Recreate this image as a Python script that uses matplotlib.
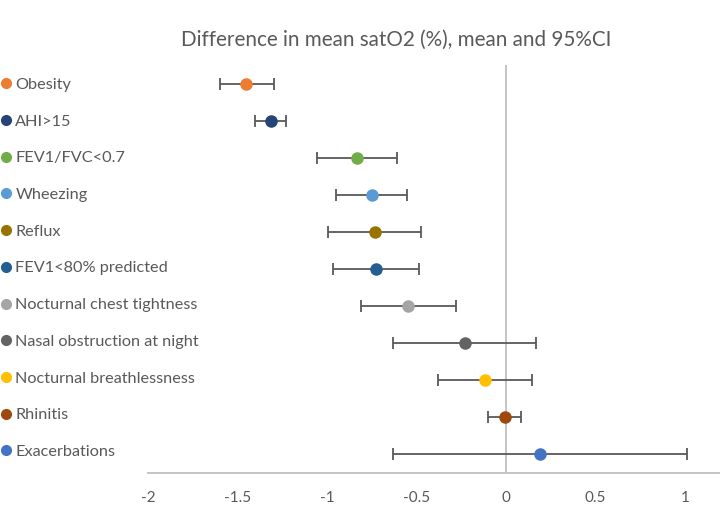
import matplotlib
matplotlib.use("Agg")
import matplotlib.pyplot as plt
from matplotlib.lines import Line2D

categories = ["Obesity", "AHI>15", "FEV1/FVC<0.7", "Wheezing", "Reflux",
              "FEV1<80% predicted", "Nocturnal chest tightness",
              "Nasal obstruction at night", "Nocturnal breathlessness",
              "Rhinitis", "Exacerbations"]
means = [-1.45, -1.315, -0.834, -0.750, -0.734, -0.724, -0.546, -0.231, -0.119, -0.007, 0.19]
lower = [-1.598, -1.402, -1.058, -0.950, -0.993, -0.965, -0.808, -0.630, -0.382, -0.099, -0.631]
upper = [-1.296, -1.229, -0.611, -0.551, -0.475, -0.484, -0.279, 0.169, 0.143, 0.085, 1.009]
colors = ["#ED7D31", "#264478", "#70AD47", "#5B9BD5", "#997300", "#255E91",
          "#A5A5A5", "#636363", "#FFC000", "#9E480E", "#4472C4"]
xticks = [-2, -1.5, -1, -0.5, 0, 0.5, 1]
xticklabels = ["-2", "-1.5", "-1", "-0.5", "0", "0.5", "1"]
title = "Difference in mean satO2 (%), mean and 95%CI"

plt.rcParams['font.family'] = ['Lato', 'DejaVu Sans']
fig = plt.figure(figsize=(7.2, 5.07), dpi=100)
ax = fig.add_axes([148/720, 1-473/507, (721-148)/720, (473-65)/507])

n = len(categories)
handles = []
for i, (c, m, lo, hi, col) in enumerate(zip(categories, means, lower, upper, colors)):
    y = n - i
    ax.errorbar([m], [y], xerr=[[m - lo], [hi - m]], fmt='none', ecolor="#595959",
                elinewidth=1.3, capsize=4, capthick=1.3, zorder=2)
    ax.plot([m], [y], 'o', color=col, markersize=8, zorder=3)
    handles.append(Line2D([], [], marker='o', linestyle='none', color=col,
                          markersize=7, label=c))

ax.set_xlim(-2, 1.2)
ax.set_ylim(0.5, n + 0.5)
ax.axvline(0, color="#BFBFBF", linewidth=1.3, zorder=1)
for s in ["top", "right", "left"]:
    ax.spines[s].set_visible(False)
ax.spines["bottom"].set_color("#BFBFBF")
ax.spines["bottom"].set_linewidth(1.3)
ax.set_yticks([])
ax.set_xticks(xticks)
ax.set_xticklabels(xticklabels)
ax.tick_params(axis='x', length=0, labelsize=11, labelcolor="#595959", pad=13)

fig.legend(handles=handles, loc="upper left", bbox_to_anchor=(-0.008, 1-71/507),
           frameon=False, fontsize=11.7, labelcolor="#595959", handlelength=0.6,
           handletextpad=0.3, labelspacing=1.375, borderaxespad=0)

fig.text(396/720, 1-40/507, title, ha="center", va="center", fontsize=14.9,
         color="#595959")

fig.savefig("out.png", dpi=100)
